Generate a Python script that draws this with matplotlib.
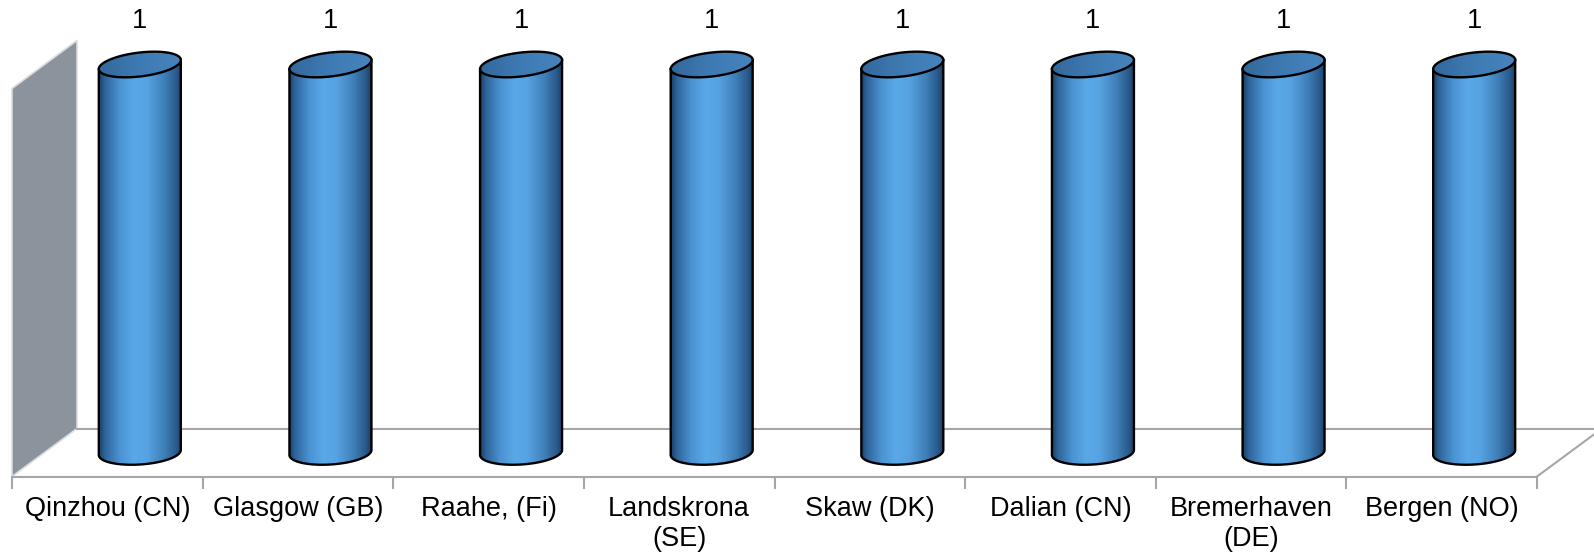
import numpy as np
import matplotlib
matplotlib.use("Agg")
import matplotlib.pyplot as plt
from matplotlib.patches import Polygon
from matplotlib.colors import LinearSegmentedColormap

plt.rcParams['font.family'] = ['Liberation Sans', 'DejaVu Sans']

ports = ['Qinzhou (CN)', 'Glasgow (GB)', 'Raahe, (Fi)', 'Landskrona\n(SE)',
         'Skaw (DK)', 'Dalian (CN)', 'Bremerhaven\n(DE)', 'Bergen (NO)']
counts = [1, 1, 1, 1, 1, 1, 1, 1]
axis_max = 1

# pixel scale of one category / one value unit
px_cat = 190.625
px_val = 388.0
base_px = 452.5

# 3d depth offset, in data units
dx = 65 / px_cat
dy = 48 / px_val
r = 41 / px_cat            # cylinder radius (x units)
b = 12 / px_val            # ellipse half height (value units)
shear_top = 0.054          # slight tilt of the ellipses
shear_bot = 0.03

fig = plt.figure(figsize=(15.94, 5.56), dpi=100)
ax = fig.add_axes([0, 0, 1, 1])
ax.axis('off')

n = len(ports)
xlim = (-12 / px_cat, n + 57 / px_cat)
ylim = ((base_px - 556) / px_val, base_px / px_val)

# back wall
wall = Polygon([(0, -dy / 2), (0, axis_max - dy / 2), (dx, axis_max + dy / 2), (dx, dy / 2)],
               closed=True, facecolor='#8b949c', edgecolor='#d9dcdf', lw=1.2, zorder=1)
ax.add_patch(wall)

# floor
floor_col = '#a6a6a6'
ax.plot([0, n], [-dy / 2, -dy / 2], color=floor_col, lw=1.5, zorder=2)
ax.plot([dx, n + dx], [dy / 2, dy / 2], color=floor_col, lw=1.5, zorder=2)
ax.plot([n, n + dx], [-dy / 2, dy / 2], color=floor_col, lw=1.5, zorder=2)
for i in range(n + 1):
    ax.plot([i, i], [-dy / 2, -dy / 2 - 11 / px_val], color=floor_col, lw=1.5, zorder=2)

cmap = LinearSegmentedColormap.from_list('cyl', [
    (0.0, '#1a3f63'), (0.07, '#2d6499'), (0.25, '#4b93d2'), (0.42, '#5aa8e8'),
    (0.58, '#57a3e2'), (0.78, '#4081ba'), (0.93, '#2b5c8f'), (1.0, '#1c4165')])
grad = cmap(np.linspace(0, 1, 256))[None, :, :3]

cap_cmap = LinearSegmentedColormap.from_list('cap', ['#33689c', '#3e7bb3', '#4784bd'])

t = np.linspace(0, 2 * np.pi, 200)
for i, v in enumerate(counts):
    xc = i + 0.5 + dx / 2

    # side of the cylinder: vertical edges plus the lower front arc
    tb = np.linspace(np.pi, 2 * np.pi, 100)
    bx = xc + r * np.cos(tb)
    by = b * np.sin(tb) + shear_bot * (bx - xc)
    side_pts = [(xc - r, v - shear_top * r)] + list(zip(bx, by)) + [(xc + r, v + shear_top * r)]
    side = Polygon(side_pts, closed=True, facecolor='none', edgecolor='black', lw=1.7, zorder=4)
    ax.add_patch(side)
    im = ax.imshow(grad, extent=(xc - r, xc + r, -b - 0.03, v + 0.03), aspect='auto',
                   interpolation='bilinear', zorder=3)
    im.set_clip_path(side)

    # top cap
    ex = xc + r * np.cos(t)
    top = Polygon(list(zip(ex, v + b * np.sin(t) + shear_top * (ex - xc))), closed=True,
                  facecolor='none', edgecolor='black', lw=1.7, zorder=6)
    ax.add_patch(top)
    cap_grad = cap_cmap(np.linspace(0, 1, 64))[None, :, :3]
    im2 = ax.imshow(cap_grad, extent=(xc - r, xc + r, v - 2 * b, v + 2 * b), aspect='auto',
                    interpolation='bilinear', zorder=5)
    im2.set_clip_path(top)

    ax.text(xc, v + 43 / px_val, str(v), ha='center', va='center', fontsize=19.5, color='black')

for i, name in enumerate(ports):
    ax.text(i + 0.5, -dy / 2 - 19 / px_val, name, ha='center', va='top', fontsize=19.5,
            color='black', linespacing=1.2)

ax.set_xlim(*xlim)
ax.set_ylim(*ylim)

fig.savefig('out.png', dpi=100)
